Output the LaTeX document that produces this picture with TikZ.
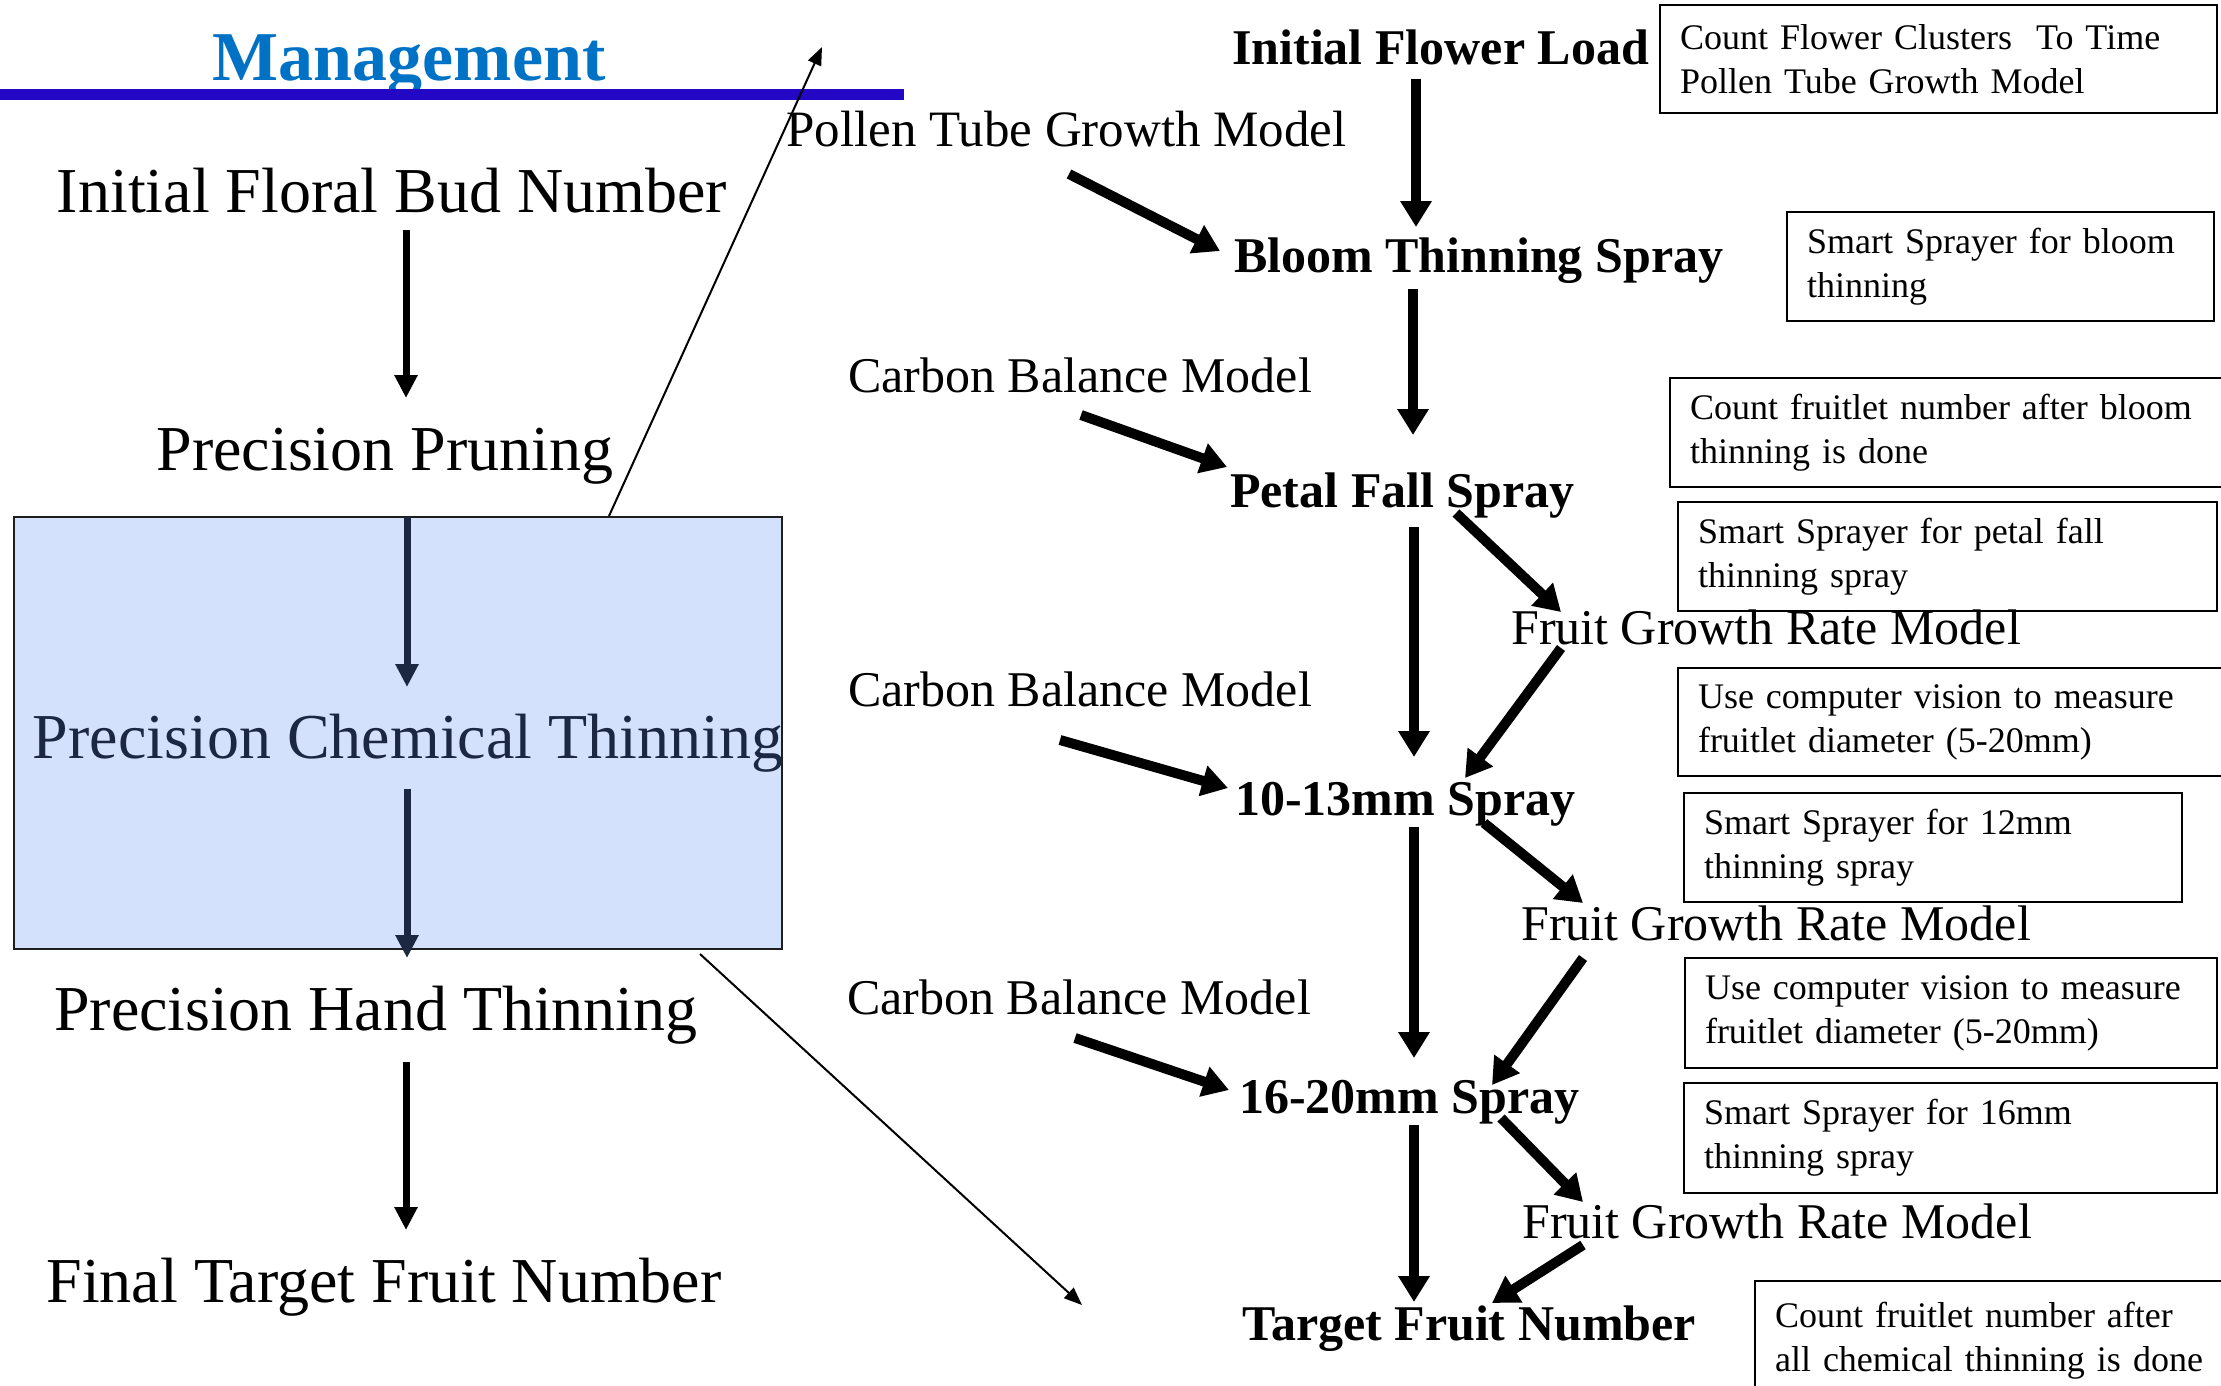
\documentclass[tikz,border=0pt]{standalone}
\usepackage{fontspec}
\setmainfont{Liberation Serif}
\usetikzlibrary{arrows.meta,calc}

\definecolor{titleblue}{RGB}{0,114,198}
\definecolor{rulecolor}{RGB}{34,8,196}
\definecolor{navy}{RGB}{28,40,66}
\definecolor{boxfill}{RGB}{211,225,252}
\definecolor{boxedge}{RGB}{30,30,30}

\begin{document}
\begin{tikzpicture}[x=1pt,y=-1pt,
  titletext/.style={inner sep=0pt, anchor=base, text=titleblue,
    font=\fontsize{70}{76}\selectfont\bfseries},
  bigtext/.style={inner sep=0pt, anchor=base, font=\fontsize{64}{70}\selectfont},
  stage/.style={inner sep=0pt, anchor=base west, font=\fontsize{50}{56}\selectfont\bfseries},
  model/.style={inner sep=0pt, anchor=base west, font=\fontsize{50}{56}\selectfont},
  chembox/.style={draw=boxedge, fill=boxfill, line width=2pt, inner sep=0pt},
  note/.style={draw=black, line width=2pt, anchor=north west, inner xsep=20pt,
    inner ysep=0pt, align=left, font=\fontsize{36}{44}\selectfont},
  leftarrow/.style={line width=7pt, -{Triangle[width=22pt,length=23pt]}},
  fatarrow/.style={line width=10pt, -{Triangle[width=30pt,length=26pt]}},
  thinarrow/.style={line width=2pt, -{Triangle[width=14pt,length=18pt]}},
]
\useasboundingbox (0,0) rectangle (2221,1385);

% heading and rule
\node[titletext] (title) at (409,80) {Management};
\draw[rulecolor, line width=11pt] (0,94.5) -- (904,94.5);

% chemical thinning panel
\node[chembox, minimum width=768pt, minimum height=432pt] (chem) at (398,733) {};

% left column: overall crop load steps
\node[bigtext] (fbn) at (392,212) {Initial Floral Bud Number};
\node[bigtext] (pp) at (385,470) {Precision Pruning};
\node[bigtext, text=navy] (pct) at (408,758) {Precision Chemical Thinning};
\node[bigtext] (pht) at (376,1030) {Precision Hand Thinning};
\node[bigtext] (ftn) at (384,1302) {Final Target Fruit Number};

\draw[leftarrow] ($(fbn.base)+(14,18)$) -- ($(pp.base)+(21,-72)$);
\draw[leftarrow, navy] ($(chem.north)+(9,1)$) -- ($(pct.base)+(-1,-71)$);
\draw[leftarrow, navy] ($(pct.base)+(-1,31)$) -- ($(pht.base)+(31,-72)$);
\draw[leftarrow] ($(pht.base)+(30,32)$) -- ($(ftn.base)+(22,-72)$);

% expansion lines towards the spray schedule
\coordinate (ptgtip) at (822,47);
\coordinate (sprtip) at (1082,1305);
\draw[thinarrow] ($(chem.north)+(211,0)$) -- (ptgtip);
\draw[thinarrow] ($(chem.south)+(302,4)$) -- (sprtip);

% middle column: spray schedule
\node[model, font=\fontsize{51}{56}\selectfont] (ptg) at (786,146) {Pollen Tube Growth Model};
\node[stage] (ifl) at (1232,64) {Initial Flower Load};
\node[stage] (bts) at (1234,272) {Bloom Thinning Spray};
\node[model] (cb1) at (848,392) {Carbon Balance Model};
\node[stage] (pfs) at (1230,507) {Petal Fall Spray};
\node[model] (fg1) at (1511,644) {Fruit Growth Rate Model};
\node[model] (cb2) at (848,706) {Carbon Balance Model};
\node[stage] (s1013) at (1235,815) {10-13mm Spray};
\node[model] (fg2) at (1521,940) {Fruit Growth Rate Model};
\node[model] (cb3) at (847,1014) {Carbon Balance Model};
\node[stage] (s1620) at (1239,1113) {16-20mm Spray};
\node[model] (fg3) at (1522,1238) {Fruit Growth Rate Model};
\node[stage] (tfn) at (1242,1340) {Target Fruit Number};

\draw[fatarrow] ($(ifl.base west)+(184,15)$) -- ($(bts.base west)+(182,-45)$);
\draw[fatarrow] ($(ptg.base west)+(283,28)$) -- ($(bts.base west)+(-14,-21)$);
\draw[fatarrow] ($(bts.base west)+(179,17)$) -- ($(pfs.base west)+(183,-72)$);
\draw[fatarrow] ($(cb1.base west)+(233,23)$) -- ($(pfs.base west)+(-3,-40)$);
\draw[fatarrow] ($(pfs.base west)+(184,20)$) -- ($(s1013.base west)+(179,-58)$);
\draw[fatarrow] ($(pfs.base west)+(226,6)$) -- ($(fg1.base west)+(50,-32)$);
\draw[fatarrow] ($(fg1.base west)+(50,4)$) -- ($(s1013.base west)+(230,-37)$);
\draw[fatarrow] ($(cb2.base west)+(212,34)$) -- ($(s1013.base west)+(-7,-27)$);
\draw[fatarrow] ($(s1013.base west)+(179,12)$) -- ($(s1620.base west)+(175,-55)$);
\draw[fatarrow] ($(s1013.base west)+(249,8)$) -- ($(fg2.base west)+(62,-37)$);
\draw[fatarrow] ($(fg2.base west)+(62,18)$) -- ($(s1620.base west)+(253,-28)$);
\draw[fatarrow] ($(cb3.base west)+(228,24)$) -- ($(s1620.base west)+(-10,-23)$);
\draw[fatarrow] ($(s1620.base west)+(175,12)$) -- ($(tfn.base west)+(172,-38)$);
\draw[fatarrow] ($(s1620.base west)+(262,5)$) -- ($(fg3.base west)+(61,-36)$);
\draw[fatarrow] ($(fg3.base west)+(61,7)$) -- ($(tfn.base west)+(250,-37)$);

% right column: tools for each step
\node[note, minimum width=557pt, minimum height=108pt, text width=517pt] (n1) at (1659,4)
  {Count Flower Clusters\ \ To Time\\Pollen Tube Growth Model};
\node[note, minimum width=427pt, minimum height=109pt, text width=387pt] (n2) at (1786,211)
  {Smart Sprayer for bloom\\thinning};
\node[note, minimum width=570pt, minimum height=109pt, text width=530pt] (n3) at (1669,377)
  {Count fruitlet number after bloom\\thinning is done};
\node[note, minimum width=539pt, minimum height=109pt, text width=499pt] (n4) at (1677,501)
  {Smart Sprayer for petal fall\\thinning spray};
\node[note, minimum width=570pt, minimum height=108pt, text width=530pt] (n5) at (1677,667)
  {Use computer vision to measure\\fruitlet diameter (5-20mm)};
\node[note, minimum width=498pt, minimum height=109pt, text width=458pt] (n6) at (1683,792)
  {Smart Sprayer for 12mm\\thinning spray};
\node[note, minimum width=532pt, minimum height=110pt, text width=492pt] (n7) at (1684,957)
  {Use computer vision to measure\\fruitlet diameter (5-20mm)};
\node[note, minimum width=533pt, minimum height=110pt, text width=493pt] (n8) at (1683,1082)
  {Smart Sprayer for 16mm\\thinning spray};
\node[note, minimum width=480pt, minimum height=120pt, text width=440pt] (n9) at (1754,1280)
  {Count fruitlet number after\\all chemical thinning is done};
\end{tikzpicture}
\end{document}
